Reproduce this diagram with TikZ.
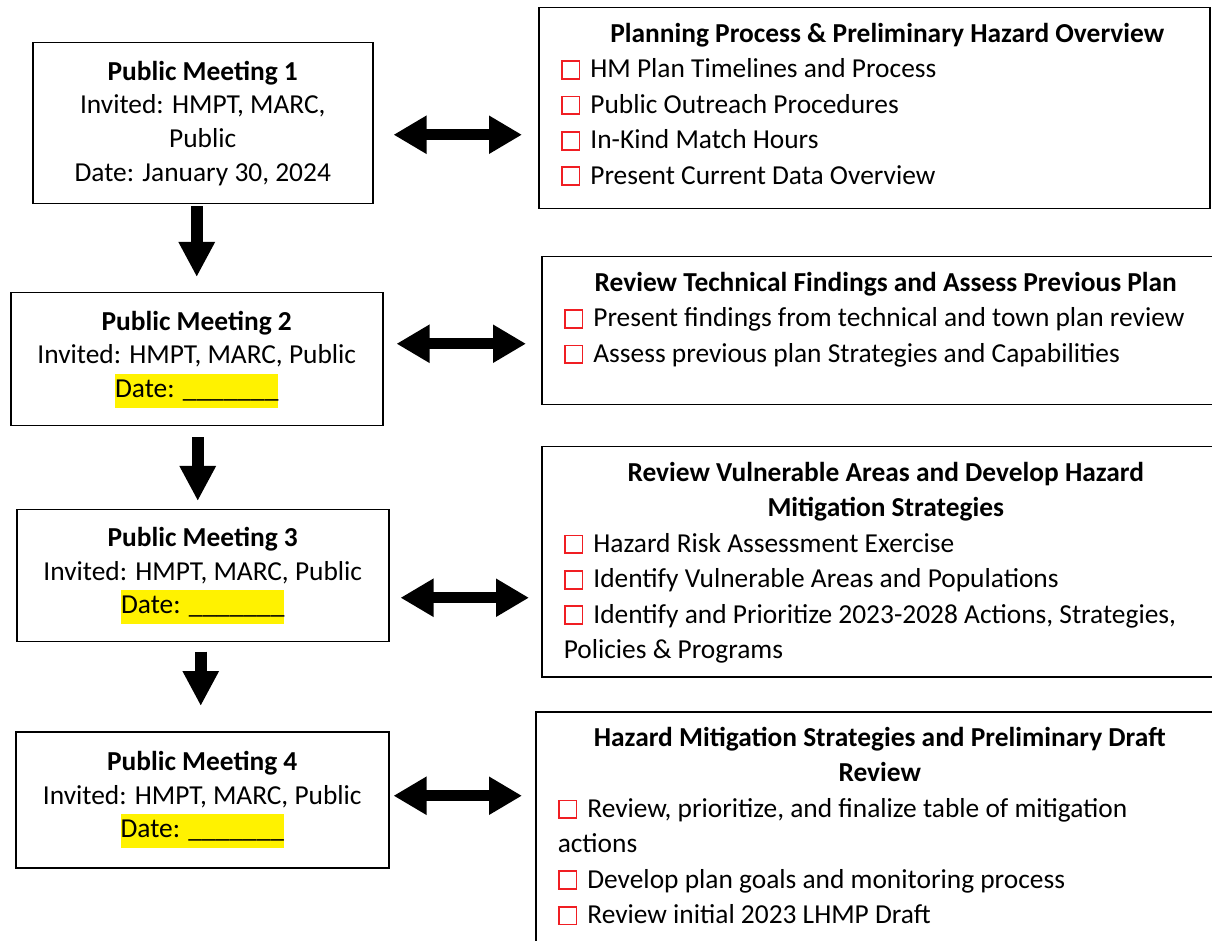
\documentclass[tikz,border=0pt]{standalone}
\usepackage{fontspec}
\setmainfont{Carlito}
\usepackage{xcolor}
\usetikzlibrary{arrows.meta,positioning,calc}

\definecolor{chkred}{RGB}{240,30,35}
\newcommand{\chk}{\textcolor{chkred}{\setlength{\fboxsep}{0pt}\setlength{\fboxrule}{0.9pt}\fbox{\rule{0pt}{8pt}\hspace{8pt}}}\hspace{5pt}}
\newcommand{\datefill}{{\setlength{\fboxsep}{0pt}\colorbox{yellow}{\strut Date: \_\_\_\_\_\_\_}}}
\newcommand{\taskbody}[2]{\parbox[c][#1][t]{322pt}{#2}}

\begin{document}
\begin{tikzpicture}[x=0.5pt,y=-0.5pt,font=\fontsize{13.7}{16.8}\selectfont,
  meet/.style={draw,line width=0.75pt,inner sep=0pt,align=center,anchor=north west},
  task/.style={draw,line width=0.75pt,inner xsep=11pt,inner ysep=5pt,anchor=north west,
    font=\fontsize{13.7}{17.7}\selectfont},
  down/.style={line width=6pt,-{Triangle[length=17.5pt,width=17pt]}},
  both/.style={line width=5.5pt,{Triangle[length=16.5pt,width=18pt]}-{Triangle[length=16.5pt,width=18pt]}}]
\useasboundingbox (0,0) rectangle (1212,941);
\clip (0,0) rectangle (1212,941);

% meetings
\node[meet,minimum width=170pt,minimum height=80.5pt] (pm1) at (32,42)
  {\textbf{Public Meeting 1}\\Invited: HMPT, MARC,\\Public\\Date: January 30, 2024};
\node[meet,minimum width=186pt,minimum height=66.5pt] (pm2) at (10,292)
  {\textbf{Public Meeting 2}\\Invited: HMPT, MARC, Public\\\datefill};
\node[meet,minimum width=186pt,minimum height=66pt] (pm3) at (16,509)
  {\textbf{Public Meeting 3}\\Invited: HMPT, MARC, Public\\\datefill};
\node[meet,minimum width=186.5pt,minimum height=68pt] (pm4) at (15,731)
  {\textbf{Public Meeting 4}\\Invited: HMPT, MARC, Public\\\datefill};

% agenda boxes
\node[task] (plan) at (538,7) {\parbox[c][90.5pt][t]{313.5pt}{%
  {\centering\bfseries\strut\hspace*{13pt}Planning Process \& Preliminary Hazard Overview\par}
  \raggedright
  \chk HM Plan Timelines and Process\\
  \chk Public Outreach Procedures\\
  \chk In-Kind Match Hours\\
  \chk Present Current Data Overview}};
\node[task] (review) at (541,256) {\taskbody{64pt}{%
  {\centering\bfseries\strut Review Technical Findings and Assess Previous Plan\par}
  \raggedright
  \chk Present findings from technical and town plan review\\
  \chk Assess previous plan Strategies and Capabilities}};
\node[task] (vuln) at (541,446) {\taskbody{105pt}{%
  {\centering\bfseries\strut Review Vulnerable Areas and Develop Hazard\\Mitigation Strategies\par}
  \raggedright
  \chk Hazard Risk Assessment Exercise\\
  \chk Identify Vulnerable Areas and Populations\\
  \chk Identify and Prioritize 2023-2028 Actions, Strategies,\\
  Policies \& Programs}};
\node[task] (draft) at (535,711) {\taskbody{115pt}{%
  {\centering\bfseries\strut Hazard Mitigation Strategies and Preliminary Draft\\Review\par}
  \raggedright
  \chk Review, prioritize, and finalize table of mitigation\\
  actions\\
  \chk Develop plan goals and monitoring process\\
  \chk Review initial 2023 LHMP Draft}};

% flow down
\draw[down] ($(pm1.south)+(-6,2)$) -- ($(pm2.north)+(0,-15)$);
\draw[down] ($(pm2.south)+(1,11)$) -- ($(pm3.north)+(-5,-8)$);
\draw[down] ($(pm3.south)+(-2,9)$) -- ($(pm4.north)+(-1.5,-25)$);

% meeting <-> agenda
\draw[both] ($(pm1.east)+(20,11.5)$) -- ($(pm1.east -| plan.west)+(-16,11.5)$);
\draw[both] ($(pm2.east)+(13,-15.5)$) -- ($(pm2.east -| review.west)+(-15,-15.5)$);
\draw[both] ($(pm3.east)+(11,22)$) -- ($(pm3.east -| vuln.west)+(-12,22)$);
\draw[both] ($(pm4.east)+(4,-4)$) -- ($(pm4.east -| draft.west)+(-13,-4)$);
\end{tikzpicture}
\end{document}
